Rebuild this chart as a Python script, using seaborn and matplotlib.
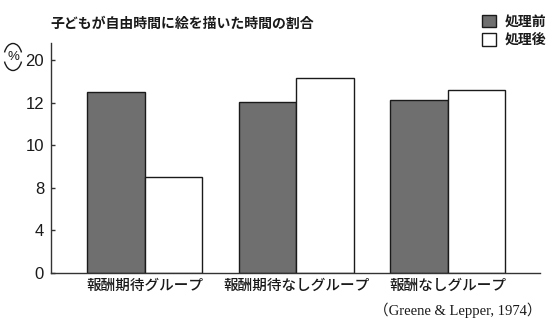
import matplotlib
matplotlib.use("Agg")
import matplotlib.pyplot as plt
import matplotlib.patches as mpatches
import seaborn as sns
import pandas as pd

groups = ["報酬期待グループ", "報酬期待なしグループ", "報酬なしグループ"]
before = [17.0, 16.1, 16.2]
after = [9.0, 18.3, 17.2]
series_names = ["処理前", "処理後"]
tick_positions = [0, 4, 8, 12, 16, 20]
tick_labels = ["0", "4", "8", "10", "12", "20"]
title = "子どもが自由時間に絵を描いた時間の割合"
source = "（Greene & Lepper, 1974）"

sns.set_theme(style="white")
plt.rcParams["font.family"] = ["Noto Sans CJK JP", "DejaVu Sans"]

df = pd.DataFrame({
    "group": groups * 2,
    "value": before + after,
    "treat": [series_names[0]] * 3 + [series_names[1]] * 3,
})

gray = "#6f6f6f"
ink = "#1a1a1a"
W, H = 550, 328
fig = plt.figure(figsize=(5.5, 3.28), dpi=100)
ax = fig.add_axes([0.0927, 0.1677, 0.982 - 0.0927, 0.869 - 0.1677])
sns.barplot(data=df, x="group", y="value", hue="treat", order=groups,
            hue_order=series_names, palette=[gray, "white"], edgecolor=ink,
            linewidth=1.0, width=0.76, gap=0, legend=False, ax=ax, saturation=1)

ax.set_xlim(-0.62, 2.61)
ax.set_ylim(0, 21.6)
ax.set_yticks(tick_positions)
ax.set_yticklabels(tick_labels, family=["Liberation Sans"], fontsize=12, color=ink)
ax.tick_params(axis="y", direction="in", length=3, width=1, color="#333333", left=True, pad=5)
ax.tick_params(axis="x", length=0, pad=4)
for lab in ax.get_xticklabels():
    lab.set_fontsize(10.5)
    lab.set_color(ink)
    lab.set_fontweight("medium")
ax.set_xlabel("")
ax.set_ylabel("")
sns.despine(ax=ax)
for s in ["left", "bottom"]:
    ax.spines[s].set_color("#333333")
    ax.spines[s].set_linewidth(1.0)

fig.text(50 / W, 1 - 24 / H, title, fontsize=10, ha="left", va="center",
         color=ink, fontweight="bold")

# vertical-style unit label: arcs above and below "%"
cx, cy = 13, 57
fig.text(cx / W, 1 - cy / H, "%", fontsize=9.5, ha="center", va="center",
         color=ink, family=["Liberation Sans"])
for t1, t2 in [(42, 138), (222, 318)]:
    arc = mpatches.Arc((cx / W, 1 - cy / H), 18 / W, 27 / H, theta1=t1, theta2=t2,
                       transform=fig.transFigure, color=ink, lw=1.0)
    fig.add_artist(arc)

handles = [mpatches.Patch(facecolor=gray, edgecolor=ink, label=series_names[0]),
           mpatches.Patch(facecolor="white", edgecolor=ink, label=series_names[1])]
leg = fig.legend(handles=handles, loc="upper right", bbox_to_anchor=(546 / W, 1 - 15 / H),
                 frameon=False, fontsize=10, handlelength=1.0, handleheight=1.0,
                 handletextpad=0.6, labelspacing=0.3, borderaxespad=0, borderpad=0)
for t in leg.get_texts():
    t.set_fontweight("bold")
    t.set_color(ink)

fig.text(541 / W, 1 - 310 / H, source, fontsize=10.5, ha="right", va="center",
         color=ink, family=["Liberation Serif", "Noto Sans CJK JP"])

fig.savefig("out.png", dpi=100)
